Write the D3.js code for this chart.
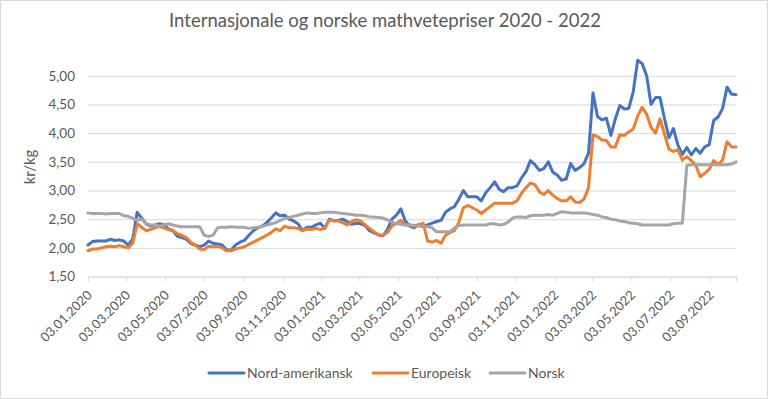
<!DOCTYPE html>
<html>
<head>
<meta charset="utf-8">
<script src="https://cdn.jsdelivr.net/npm/d3@7"></script>
<style>
  body { margin: 0; background: #fff; }
  svg { display: block; font-family: Lato, "Open Sans", sans-serif; }
</style>
</head>
<body>
<div class="mainContent"></div>
<script>
const w = 768;
const h = 399;

// weekly observations, every Friday from 03.01.2020 to 14.10.2022
const firstWeek = '03.01.2020';
const lastWeek = '14.10.2022';

const tickLabels = ['03.01.2020', '03.03.2020', '03.05.2020', '03.07.2020', '03.09.2020', '03.11.2020',
    '03.01.2021', '03.03.2021', '03.05.2021', '03.07.2021', '03.09.2021', '03.11.2021',
    '03.01.2022', '03.03.2022', '03.05.2022', '03.07.2022', '03.09.2022'];

const yTicks = [1.5, 2, 2.5, 3, 3.5, 4, 4.5, 5];

const nordAmerikansk = [
    2.05, 2.11, 2.12, 2.12, 2.12, 2.15, 2.13, 2.14, 2.12, 2.05,
    2.15, 2.62, 2.52, 2.42, 2.38, 2.40, 2.42, 2.40, 2.33, 2.30,
    2.20, 2.18, 2.15, 2.08, 2.05, 2.02, 2.05, 2.12, 2.08, 2.07,
    2.05, 1.97, 1.96, 2.05, 2.10, 2.13, 2.22, 2.30, 2.35, 2.38,
    2.44, 2.52, 2.61, 2.56, 2.57, 2.50, 2.47, 2.42, 2.30, 2.36,
    2.36, 2.40, 2.43, 2.34, 2.50, 2.47, 2.48, 2.50, 2.46, 2.41,
    2.43, 2.42, 2.39, 2.30, 2.26, 2.23, 2.21, 2.32, 2.50, 2.57,
    2.68, 2.47, 2.38, 2.35, 2.41, 2.38, 2.40, 2.43, 2.46, 2.48,
    2.62, 2.68, 2.72, 2.85, 3.00, 2.89, 2.89, 2.89, 2.82, 2.96,
    3.05, 3.15, 3.02, 2.98, 3.05, 3.05, 3.08, 3.22, 3.33, 3.52,
    3.45, 3.35, 3.38, 3.50, 3.32, 3.27, 3.18, 3.20, 3.47, 3.35,
    3.40, 3.47, 3.65, 4.70, 4.29, 4.23, 4.26, 3.96, 4.25, 4.48,
    4.42, 4.43, 4.72, 5.27, 5.21, 5.00, 4.50, 4.62, 4.62, 4.25,
    3.92, 4.08, 3.79, 3.63, 3.75, 3.62, 3.73, 3.65, 3.76, 3.80,
    4.22, 4.28, 4.43, 4.80, 4.68, 4.67
];

const europeisk = [
    1.95, 1.98, 1.98, 2.00, 2.02, 2.03, 2.02, 2.04, 2.02, 2.00,
    2.08, 2.42, 2.36, 2.30, 2.32, 2.35, 2.37, 2.35, 2.32, 2.30,
    2.25, 2.22, 2.18, 2.10, 2.05, 1.98, 1.97, 2.03, 2.02, 2.03,
    2.00, 1.95, 1.95, 1.98, 2.00, 2.02, 2.06, 2.10, 2.14, 2.18,
    2.22, 2.27, 2.33, 2.30, 2.38, 2.35, 2.35, 2.34, 2.30, 2.33,
    2.32, 2.34, 2.32, 2.35, 2.48, 2.48, 2.47, 2.44, 2.40, 2.46,
    2.49, 2.47, 2.40, 2.34, 2.28, 2.22, 2.22, 2.27, 2.38, 2.43,
    2.48, 2.40, 2.40, 2.39, 2.40, 2.43, 2.12, 2.10, 2.13, 2.08,
    2.22, 2.27, 2.30, 2.45, 2.70, 2.74, 2.70, 2.66, 2.60, 2.66,
    2.72, 2.78, 2.78, 2.78, 2.78, 2.78, 2.82, 2.95, 3.05, 3.13,
    3.10, 2.98, 2.93, 3.00, 2.92, 2.86, 2.82, 2.82, 2.89, 2.80,
    2.79, 2.85, 3.05, 3.97, 3.94, 3.88, 3.87, 3.76, 3.76, 3.97,
    3.96, 4.02, 4.07, 4.30, 4.45, 4.33, 4.10, 4.00, 4.25, 3.98,
    3.72, 3.68, 3.71, 3.53, 3.59, 3.52, 3.44, 3.24, 3.30, 3.37,
    3.52, 3.45, 3.53, 3.85, 3.76, 3.76
];

const norsk = [
    2.61, 2.60, 2.60, 2.60, 2.59, 2.60, 2.60, 2.60, 2.56, 2.55,
    2.52, 2.48, 2.50, 2.42, 2.40, 2.40, 2.38, 2.40, 2.42, 2.40,
    2.38, 2.37, 2.37, 2.37, 2.37, 2.37, 2.22, 2.20, 2.22, 2.35,
    2.36, 2.36, 2.37, 2.36, 2.36, 2.36, 2.34, 2.35, 2.36, 2.37,
    2.40, 2.42, 2.44, 2.48, 2.51, 2.53, 2.55, 2.57, 2.59, 2.61,
    2.60, 2.60, 2.61, 2.62, 2.62, 2.62, 2.61, 2.60, 2.59, 2.58,
    2.57, 2.57, 2.56, 2.54, 2.54, 2.53, 2.52, 2.49, 2.45, 2.42,
    2.41, 2.40, 2.40, 2.38, 2.38, 2.37, 2.37, 2.35, 2.28, 2.28,
    2.28, 2.28, 2.35, 2.39, 2.40, 2.40, 2.40, 2.40, 2.40, 2.40,
    2.42, 2.42, 2.40, 2.41, 2.45, 2.52, 2.54, 2.54, 2.53, 2.56,
    2.57, 2.57, 2.57, 2.58, 2.57, 2.60, 2.63, 2.62, 2.61, 2.61,
    2.61, 2.61, 2.60, 2.58, 2.57, 2.54, 2.53, 2.50, 2.49, 2.47,
    2.46, 2.44, 2.43, 2.42, 2.40, 2.40, 2.40, 2.40, 2.40, 2.40,
    2.40, 2.42, 2.43, 2.43, 3.44, 3.45, 3.45, 3.45, 3.45, 3.45,
    3.45, 3.45, 3.45, 3.45, 3.46, 3.50
];

const seriesNames = ['Nord-amerikansk', 'Europeisk', 'Norsk'];
const seriesColors = ['#4472C4', '#ED7D31', '#A5A5A5'];

const parseDate = d3.timeParse('%d.%m.%Y');
const comma = d3.format('.2f');

function draw() {
    const start = parseDate(firstWeek);
    const end = parseDate(lastWeek);
    const weeks = d3.timeDay.range(start, d3.timeDay.offset(end, 1), 7);

    const series = [nordAmerikansk, europeisk, norsk].map((vals, i) => ({
        name: seriesNames[i],
        color: seriesColors[i],
        values: vals.map((v, j) => ({ date: weeks[j], value: v }))
    }));

    const xScale = d3.scaleTime()
        .domain([start, end])
        .range([88, 736]);

    const yScale = d3.scaleLinear()
        .domain([1.5, 5])
        .range([276.6, 75.7]);

    const svg = d3.select('.mainContent')
        .append('svg')
        .attr('width', w)
        .attr('height', h);

    svg.append('rect')
        .attr('x', 0.5).attr('y', 0.5)
        .attr('width', w - 1).attr('height', h - 1)
        .attr('fill', '#fff')
        .attr('stroke', '#d9d9d9');

    // title
    svg.append('text')
        .attr('x', 385)
        .attr('y', 27)
        .attr('text-anchor', 'middle')
        .attr('font-size', '18.5px')
        .attr('fill', '#595959')
        .text('Internasjonale og norske mathvetepriser 2020 - 2022');

    // gridlines + y axis
    const yAxis = d3.axisLeft(yScale)
        .tickValues(yTicks)
        .tickSize(-(736 - 88))
        .tickPadding(13)
        .tickFormat(d => comma(d).replace('.', ','));

    svg.append('g')
        .attr('id', 'y-axis')
        .attr('transform', 'translate(88,0)')
        .call(yAxis)
        .call(g => g.select('.domain').remove())
        .call(g => g.selectAll('.tick line').attr('stroke', '#d9d9d9'))
        .call(g => g.selectAll('.tick text')
            .attr('font-family', 'Lato, sans-serif')
            .attr('font-size', '13.5px')
            .attr('fill', '#595959'));

    svg.append('text')
        .attr('transform', 'translate(35,167) rotate(-90)')
        .attr('text-anchor', 'middle')
        .attr('font-size', '15px')
        .attr('fill', '#595959')
        .text('kr/kg');

    // x axis
    const xAxis = d3.axisBottom(xScale)
        .tickValues(tickLabels.map(parseDate))
        .tickSize(5)
        .tickFormat(d3.timeFormat('%d.%m.%Y'));

    svg.append('g')
        .attr('id', 'x-axis')
        .attr('transform', `translate(0,${yScale(1.5)})`)
        .call(xAxis)
        .call(g => g.select('.domain').attr('stroke', '#d9d9d9'))
        .call(g => g.selectAll('.tick line').attr('stroke', '#d9d9d9'))
        .call(g => g.selectAll('.tick text')
            .attr('font-family', 'Lato, sans-serif')
            .attr('font-size', '13px')
            .attr('fill', '#595959')
            .attr('text-anchor', 'end')
            .attr('dy', '0.35em')
            .attr('y', 0)
            .attr('transform', 'translate(1,16) rotate(-45)'));

    const line = d3.line()
        .x(d => xScale(d.date))
        .y(d => yScale(d.value));

    svg.selectAll('path.serie')
        .data(series)
        .enter()
        .append('path')
        .attr('class', 'serie')
        .attr('d', d => line(d.values))
        .attr('fill', 'none')
        .attr('stroke', d => d.color)
        .attr('stroke-width', 3)
        .attr('stroke-linejoin', 'round')
        .attr('stroke-linecap', 'round');

    // legend
    const legendX = [209, 373, 490];
    const legend = svg.selectAll('g.legend')
        .data(series)
        .enter()
        .append('g')
        .attr('class', 'legend')
        .attr('transform', (d, i) => `translate(${legendX[i]},373)`);

    legend.append('line')
        .attr('x1', 0).attr('x2', 35)
        .attr('stroke', d => d.color)
        .attr('stroke-width', 3)
        .attr('stroke-linecap', 'round');

    legend.append('text')
        .attr('x', 38)
        .attr('dy', '0.35em')
        .attr('font-size', '14px')
        .attr('fill', '#595959')
        .text(d => d.name);
}

draw();
</script>
</body>
</html>
